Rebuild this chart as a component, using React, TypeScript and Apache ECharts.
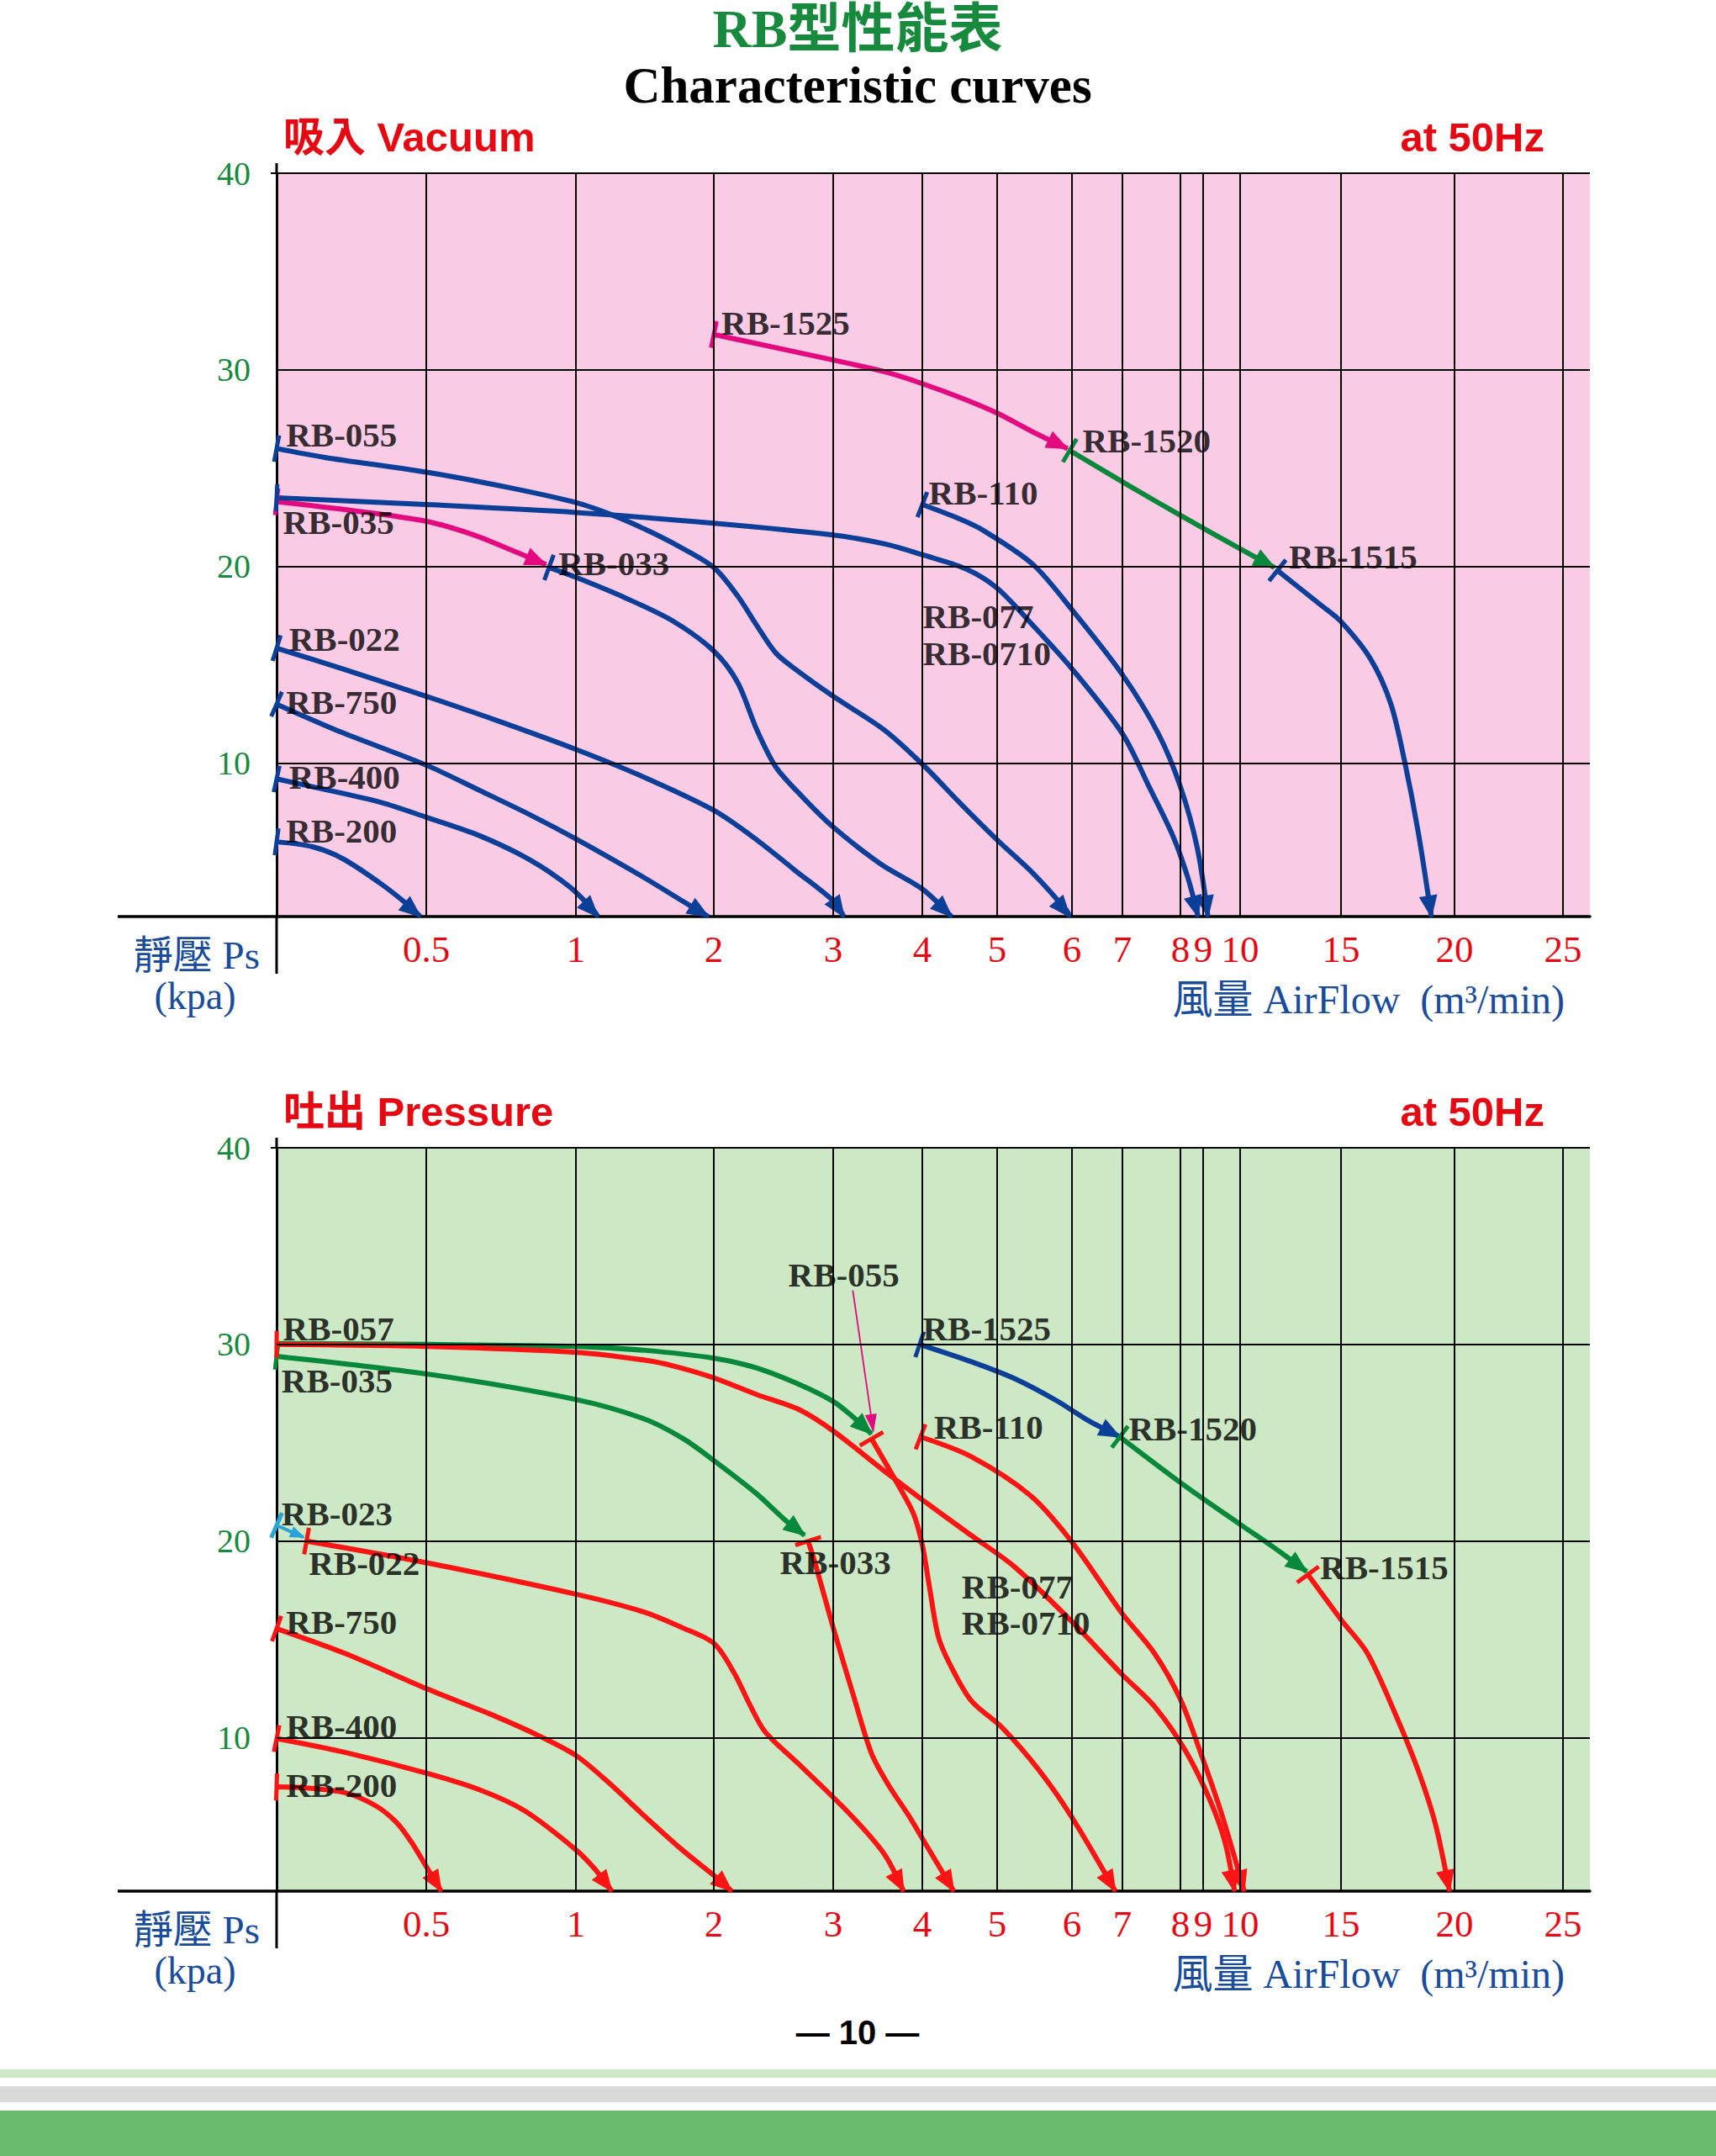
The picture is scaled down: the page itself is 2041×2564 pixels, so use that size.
import React, { useEffect, useRef } from "react";
import * as echarts from "echarts";

// ---------------- axis ticks ----------------
const X_TICK_FLOWS = [0, 0.5, 1, 2, 3, 4, 5, 6, 7, 8, 9, 10, 15, 20, 25, 26.24];
const X_TICK_LABELS = ["", "0.5", "1", "2", "3", "4", "5", "6", "7", "8", "9", "10", "15", "20", "25", ""];
const Y_TICKS = [10, 20, 30, 40];
const Y_MIN = 2.2;
const Y_MAX = 40;

// ---------------- 吸入 Vacuum curves: [flow m3/min, kPa] ----------------
const VAC_RB200 = [[0, 6.0], [0.12, 5.75], [0.22, 5.15], [0.35, 3.85], [0.45, 2.65], [0.48, 2.2]];
const VAC_RB400 = [[0, 9.2], [0.12, 8.8], [0.35, 8.0], [0.5, 7.25], [0.68, 6.3], [0.85, 5.05], [0.98, 3.7], [1.13, 2.5], [1.16, 2.2]];
const VAC_RB750 = [[0, 13.0], [0.22, 11.55], [0.5, 9.9], [0.68, 8.6], [0.85, 7.35], [1.0, 6.15], [1.49, 4.2], [1.77, 3.0], [1.96, 2.2]];
const VAC_RB022 = [[0, 15.85], [0.22, 14.8], [0.5, 13.4], [0.73, 12.2], [1.0, 10.7], [1.49, 9.3], [2.0, 7.6], [2.36, 6.1], [2.68, 4.55], [3.0, 3.0], [3.12, 2.2]];
const VAC_RB035 = [[0, 23.3], [0.25, 22.85], [0.5, 22.3], [0.66, 21.6], [0.79, 20.8], [0.9, 20.1]];
const VAC_RB033 = [[0.91, 19.95], [1.0, 19.45], [1.36, 18.4], [1.71, 17.2], [2.0, 15.7], [2.2, 14.1], [2.36, 11.7], [2.52, 9.8], [2.74, 8.3], [3.0, 6.75], [3.54, 4.85], [4.0, 3.6], [4.39, 2.2]];
const VAC_RB055 = [[0, 26.0], [0.16, 25.55], [0.5, 24.8], [0.78, 24.0], [1.0, 23.25], [1.27, 22.6], [1.5, 21.9], [1.74, 21.05], [2.0, 19.95], [2.2, 18.5], [2.36, 17.0], [2.52, 15.6], [2.7, 14.7], [3.0, 13.4], [3.57, 11.7], [4.0, 9.95], [4.51, 7.95], [5.0, 6.1], [5.48, 4.4], [5.93, 2.5], [5.97, 2.2]];
const VAC_RB077 = [[0, 23.5], [0.5, 23.15], [1.0, 22.75], [2.0, 22.2], [3.0, 21.6], [3.58, 21.15], [4.0, 20.6], [4.57, 19.9], [5.0, 18.9], [5.48, 17.0], [6.0, 14.8], [7.0, 11.5], [7.46, 8.8], [7.87, 6.3], [8.32, 4.2], [8.78, 2.2]];
const VAC_RB110 = [[4.0, 23.15], [4.51, 22.4], [4.83, 21.8], [5.48, 20.1], [6.0, 17.8], [7.0, 14.5], [7.62, 11.5], [8.0, 8.8], [8.74, 5.7], [9.13, 2.2]];
const VAC_RB1525 = [[2.0, 31.8], [2.54, 31.1], [3.0, 30.5], [3.58, 29.9], [4.0, 29.3], [4.57, 28.5], [5.0, 27.8], [5.5, 26.8], [5.94, 26.0]];
const VAC_RB1520 = [[5.97, 25.9], [7.12, 24.1], [8.0, 22.6], [10.0, 20.9], [11.7, 19.95]];
const VAC_RB1515 = [[11.85, 19.8], [14.05, 18.0], [15.0, 17.2], [16.3, 15.3], [17.2, 13.0], [17.8, 10.1], [18.4, 6.5], [18.98, 2.2]];

const VAC_LABELS: [string, number, number][] = [
  ["RB-1525", 2.06, 32.4], ["RB-055", 0.03, 26.7], ["RB-1520", 6.2, 26.4], ["RB-110", 4.08, 23.75],
  ["RB-035", 0.02, 22.25], ["RB-033", 0.94, 20.15], ["RB-1515", 12.4, 20.5], ["RB-077", 4.0, 17.45],
  ["RB-0710", 4.0, 15.6], ["RB-022", 0.04, 16.3], ["RB-750", 0.03, 13.1], ["RB-400", 0.04, 9.3], ["RB-200", 0.03, 6.55],
];

// ---------------- 吐出 Pressure curves: [flow m3/min, kPa] ----------------
const PRS_RB200 = [[0, 7.5], [0.1, 7.45], [0.23, 7.2], [0.33, 6.55], [0.4, 5.7], [0.45, 4.7], [0.5, 3.45], [0.55, 2.2]];
const PRS_RB400 = [[0, 9.96], [0.23, 9.25], [0.5, 8.2], [0.68, 7.34], [0.83, 6.27], [1.0, 4.3], [1.14, 3.3], [1.26, 2.2]];
const PRS_RB750 = [[0, 15.55], [0.23, 14.28], [0.5, 12.5], [0.73, 11.1], [0.89, 10.0], [1.0, 9.1], [1.22, 7.83], [1.5, 6.0], [1.77, 4.3], [2.0, 3.0], [2.15, 2.2]];
const PRS_RB022 = [[0.1, 20.0], [0.5, 18.9], [1.0, 17.3], [1.49, 16.4], [1.77, 15.6], [2.0, 14.8], [2.17, 13.3], [2.3, 11.7], [2.43, 10.3], [2.71, 8.67], [3.19, 6.1], [3.57, 4.1], [3.79, 2.2]];
const PRS_RB023 = [[0, 20.8], [0.09, 20.2]];
const PRS_RB035 = [[0, 29.4], [0.5, 28.5], [1.0, 27.2], [1.5, 26.2], [1.78, 25.2], [2.0, 24.1], [2.36, 22.4], [2.61, 21.0], [2.76, 20.3]];
const PRS_RB033 = [[2.79, 20.0], [2.85, 18.85], [3.0, 15.6], [3.24, 11.95], [3.43, 9.2], [3.62, 7.6], [3.86, 5.95], [4.06, 4.5], [4.42, 2.2]];
const PRS_RB057G = [[0, 30.05], [0.5, 30.0], [1.0, 29.9], [1.5, 29.7], [2.0, 29.3], [2.36, 28.8], [2.74, 27.9], [3.0, 27.1], [3.2, 26.4], [3.43, 25.45]];
const PRS_RB057R = [[0, 30.0], [0.5, 29.9], [1.0, 29.6], [1.5, 29.2], [1.71, 28.9], [2.0, 28.3], [2.36, 27.45], [2.71, 26.7], [3.0, 25.6], [3.62, 23.4], [4.0, 22.1], [4.65, 20.3], [5.23, 18.7], [6.0, 15.9], [7.0, 13.2], [7.55, 11.6], [8.19, 9.4], [9.18, 6.85], [9.59, 4.7], [9.85, 2.2]];
const PRS_RB055 = [[3.43, 25.2], [3.71, 23.0], [3.9, 21.4], [4.0, 19.8], [4.09, 17.8], [4.21, 15.2], [4.36, 13.8], [4.65, 11.9], [5.07, 10.5], [5.57, 8.3], [6.0, 5.95], [6.86, 2.2]];
const PRS_RB110 = [[3.98, 25.3], [4.65, 24.3], [5.45, 22.3], [6.0, 19.95], [7.0, 16.3], [7.55, 14.3], [8.0, 11.95], [8.9, 9.2], [9.53, 5.95], [10.2, 2.2]];
const PRS_RB1525 = [[3.97, 30.0], [4.67, 29.1], [5.24, 28.25], [5.79, 27.15], [6.31, 26.15], [6.95, 25.3]];
const PRS_RB1520 = [[6.95, 25.3], [8.15, 22.85], [10.0, 20.85], [11.5, 19.8], [13.3, 18.45]];
const PRS_RB1515 = [[13.36, 18.3], [15.04, 15.95], [16.16, 14.3], [17.47, 11.0], [18.41, 8.3], [19.16, 5.6], [19.78, 2.2]];
const PRS_PTR055 = [[3.22, 32.75], [3.45, 25.6]];

const PRS_LABELS: [string, number, number][] = [
  ["RB-057", 0.02, 30.8], ["RB-035", 0.015, 28.15], ["RB-023", 0.015, 21.4], ["RB-022", 0.106, 18.87],
  ["RB-750", 0.03, 15.9], ["RB-400", 0.03, 10.6], ["RB-200", 0.03, 7.6], ["RB-055", 2.62, 33.55],
  ["RB-1525", 4.0, 30.8], ["RB-110", 4.15, 25.8], ["RB-1520", 7.1, 25.7], ["RB-033", 2.55, 18.9],
  ["RB-1515", 13.94, 18.65], ["RB-077", 4.52, 17.7], ["RB-0710", 4.52, 15.85],
];

// ---------------- styles / layout ----------------
const BLUE = "#0b3f98";
const MAGENTA = "#e3097f";
const GREEN = "#07883a";
const RED = "#fb1414";
const CYAN = "#2aa3d9";
const TEXT_RED = "#e50914";
const TEXT_GREEN = "#178a3e";
const TEXT_BLUE = "#1a4c9c";
const SERIF = '"Liberation Serif", "DejaVu Serif", "Noto Sans CJK TC", serif';
const SANS = '"Liberation Sans", "Noto Sans CJK TC", sans-serif';

const PAGE_W = 2041;
const PAGE_H = 2564;
const GRID_LEFT = 329;
const GRID_W = 1562;
const GRID_H = 884;
const GRID_TOPS = [206, 1365];
const X_TICK_POS = [0, 178, 356, 520, 662, 768, 857, 946, 1006, 1075, 1102, 1146, 1266, 1401, 1530, 1562];

function flowPos(f: number) {
  const n = X_TICK_FLOWS.length;
  for (let i = 0; i < n - 1; i++) {
    const a = X_TICK_FLOWS[i];
    const b = X_TICK_FLOWS[i + 1];
    if (f <= b || i === n - 2) {
      return X_TICK_POS[i] + ((f - a) / (b - a)) * (X_TICK_POS[i + 1] - X_TICK_POS[i]);
    }
  }
  return 0;
}

type Curve = {
  name: string; data: number[][]; color: string; width?: number; tick?: boolean; arrow?: boolean;
  arrowLen?: number; arrowHalf?: number; smooth?: boolean;
};

const VAC_CURVES: Curve[] = [
  { name: "RB-200", data: VAC_RB200, color: BLUE },
  { name: "RB-400", data: VAC_RB400, color: BLUE },
  { name: "RB-750", data: VAC_RB750, color: BLUE },
  { name: "RB-022", data: VAC_RB022, color: BLUE },
  { name: "RB-033", data: VAC_RB033, color: BLUE },
  { name: "RB-035", data: VAC_RB035, color: MAGENTA },
  { name: "RB-055", data: VAC_RB055, color: BLUE },
  { name: "RB-077", data: VAC_RB077, color: BLUE },
  { name: "RB-110", data: VAC_RB110, color: BLUE },
  { name: "RB-1525", data: VAC_RB1525, color: MAGENTA },
  { name: "RB-1520", data: VAC_RB1520, color: GREEN },
  { name: "RB-1515", data: VAC_RB1515, color: BLUE },
];

const PRS_CURVES: Curve[] = [
  { name: "RB-200", data: PRS_RB200, color: RED },
  { name: "RB-400", data: PRS_RB400, color: RED },
  { name: "RB-750", data: PRS_RB750, color: RED },
  { name: "RB-022", data: PRS_RB022, color: RED },
  { name: "RB-023", data: PRS_RB023, color: CYAN, width: 4, arrowLen: 16, arrowHalf: 7, smooth: false },
  { name: "RB-035", data: PRS_RB035, color: GREEN },
  { name: "RB-033", data: PRS_RB033, color: RED },
  { name: "RB-057 to RB-055", data: PRS_RB057G, color: GREEN, tick: false },
  { name: "RB-057", data: PRS_RB057R, color: RED },
  { name: "RB-055", data: PRS_RB055, color: RED },
  { name: "RB-110", data: PRS_RB110, color: RED },
  { name: "RB-1525", data: PRS_RB1525, color: BLUE },
  { name: "RB-1520", data: PRS_RB1520, color: GREEN },
  { name: "RB-1515", data: PRS_RB1515, color: RED },
  { name: "RB-055 pointer", data: PRS_PTR055, color: MAGENTA, width: 1.8, tick: false, arrowLen: 20, arrowHalf: 7, smooth: false },
];

function dirFrom(pts: number[][], fromEnd: boolean, minDist: number) {
  const n = pts.length;
  const a = fromEnd ? pts[n - 1] : pts[0];
  let b = fromEnd ? pts[n - 2] : pts[1];
  if (fromEnd) {
    for (let i = n - 2; i >= 0; i--) {
      b = pts[i];
      if (Math.hypot(a[0] - b[0], a[1] - b[1]) >= minDist) break;
    }
  } else {
    for (let i = 1; i < n; i++) {
      b = pts[i];
      if (Math.hypot(a[0] - b[0], a[1] - b[1]) >= minDist) break;
    }
  }
  const dx = fromEnd ? a[0] - b[0] : b[0] - a[0];
  const dy = fromEnd ? a[1] - b[1] : b[1] - a[1];
  const L = Math.hypot(dx, dy) || 1;
  return [dx / L, dy / L];
}

function buildPanel(g: number, curves: Curve[], labels: [string, number, number][]) {
  const series: any[] = [];
  // grid lines
  series.push({
    type: "line", xAxisIndex: g, yAxisIndex: g, data: [[0, Y_MIN]], symbol: "none",
    lineStyle: { opacity: 0 }, silent: true, z: 1,
    markLine: {
      silent: true, symbol: ["none", "none"], label: { show: false },
      lineStyle: { color: "#000", width: 2, type: "solid" },
      emphasis: { disabled: true },
      data: [
        ...X_TICK_POS.slice(1, -1).map((p) => ({ xAxis: p })),
        ...Y_TICKS.map((v) => ({ yAxis: v })),
      ],
    },
  });
  curves.forEach((c) => {
    series.push({
      type: "line", name: c.name, xAxisIndex: g, yAxisIndex: g,
      data: c.data.map(([f, k]) => [flowPos(f), k]),
      smooth: c.smooth === false ? false : 0.3,
      showSymbol: false, symbol: "none",
      lineStyle: { color: c.color, width: c.width ?? 6 },
      silent: true, z: 3,
    });
  });
  // start ticks and arrow heads
  series.push({
    type: "custom", xAxisIndex: g, yAxisIndex: g, silent: true, z: 4, clip: false,
    data: curves.map((_, i) => [i, Y_MAX]),
    renderItem: (params: any, api: any) => {
      const c = curves[params.dataIndex];
      const pts = c.data.map(([f, k]) => api.coord([flowPos(f), k]));
      const children: any[] = [];
      if (c.arrow !== false) {
        const [dx, dy] = dirFrom(pts, true, 18);
        const a = pts[pts.length - 1];
        const len = c.arrowLen ?? 25;
        const hw = c.arrowHalf ?? 11;
        const bx = a[0] - dx * len;
        const by = a[1] - dy * len;
        children.push({
          type: "polygon",
          shape: { points: [[a[0] + dx * 2, a[1] + dy * 2], [bx - dy * hw, by + dx * hw], [bx + dy * hw, by - dx * hw]] },
          style: { fill: c.color },
        });
      }
      if (c.tick !== false) {
        const [dx, dy] = dirFrom(pts, false, 14);
        const a = pts[0];
        const h = 16;
        children.push({
          type: "line",
          shape: { x1: a[0] - dy * h, y1: a[1] + dx * h, x2: a[0] + dy * h, y2: a[1] - dx * h },
          style: { stroke: c.color, lineWidth: 5 },
        });
      }
      return { type: "group", children };
    },
  });
  // model labels
  series.push({
    type: "scatter", xAxisIndex: g, yAxisIndex: g, silent: true, z: 5,
    symbol: "circle", symbolSize: 1, itemStyle: { color: "rgba(0,0,0,0)" },
    data: labels.map(([n, f, k]) => ({ name: n, value: [flowPos(f), k] })),
    label: {
      show: true, position: "right", distance: 0, formatter: "{b}",
      color: "#000", fontFamily: SERIF, fontWeight: "bold", fontSize: 41,
    },
  });
  return series;
}

function text(x: number, y: number, t: string, font: string, fill: string, align = "left", extra: any = {}) {
  return {
    type: "text", x, y, silent: true, ...extra,
    style: { text: t, font, fill, align, textAlign: align, verticalAlign: "middle", textVerticalAlign: "middle" },
  };
}

function line(x1: number, y1: number, x2: number, y2: number, w: number) {
  return { type: "line", silent: true, shape: { x1, y1, x2, y2 }, style: { stroke: "#000", lineWidth: w } };
}

export default function App() {
  const ref = useRef<HTMLDivElement>(null);
  useEffect(() => {
    document.body.style.margin = "0";
    const chart = echarts.init(ref.current!, undefined, { renderer: "svg" });
    const bgs = ["#f9cbe5", "#cde8c4"];
    const grids = GRID_TOPS.map((top, g) => ({
      left: GRID_LEFT, top, width: GRID_W, height: GRID_H, show: true,
      backgroundColor: bgs[g], borderWidth: 0,
    }));
    const xAxes = GRID_TOPS.map((_, g) => ({
      type: "value", gridIndex: g, min: 0, max: X_TICK_POS[X_TICK_POS.length - 1],
      axisLine: { show: true, onZero: false, lineStyle: { color: "#000", width: 3.5 } },
      axisTick: { show: false }, splitLine: { show: false },
      axisLabel: {
        customValues: X_TICK_POS.slice(1, -1),
        formatter: (v: number) => {
          const i = X_TICK_POS.findIndex((p) => Math.abs(p - v) < 0.01);
          return i >= 0 ? X_TICK_LABELS[i] : "";
        },
        color: TEXT_RED, fontFamily: SERIF, fontSize: 45, margin: 16,
      },
    }));
    const yAxes = GRID_TOPS.map((_, g) => ({
      type: "value", gridIndex: g, min: Y_MIN, max: Y_MAX,
      axisLine: { show: true, lineStyle: { color: "#000", width: 3 } },
      axisTick: { show: false }, splitLine: { show: false },
      axisLabel: { customValues: Y_TICKS, color: TEXT_GREEN, fontFamily: SERIF, fontSize: 40, margin: 31 },
    }));

    const graphics: any[] = [
      text(1020, 34, "RB型性能表", `bold 64px ${SERIF}`, TEXT_GREEN, "center"),
      text(1020, 101, "Characteristic curves", `bold 61px ${SERIF}`, "#000", "center"),
    ];
    const headers = ["吸入 Vacuum", "吐出 Pressure"];
    GRID_TOPS.forEach((top, g) => {
      const bottom = top + GRID_H;
      graphics.push(text(337, top - 43, headers[g], `bold 49px ${SANS}`, TEXT_RED, "left"));
      graphics.push(text(1837, top - 43, "at 50Hz", `bold 49px ${SANS}`, TEXT_RED, "right"));
      graphics.push(text(309, bottom + 46, "靜壓 Ps", `47px ${SERIF}`, TEXT_BLUE, "right"));
      graphics.push(text(232, bottom + 94, "(kpa)", `46px ${SERIF}`, TEXT_BLUE, "center"));
      graphics.push(text(1861, bottom + 98, "風量 AirFlow  (m³/min)", `48px ${SERIF}`, TEXT_BLUE, "right"));
      graphics.push(line(140, bottom, GRID_LEFT, bottom, 3.5));
      graphics.push(line(GRID_LEFT, bottom, GRID_LEFT, bottom + 68, 3));
      graphics.push(line(GRID_LEFT, top - 12, GRID_LEFT, top, 3));
      graphics.push(line(GRID_LEFT - 7, top, GRID_LEFT, top, 2));
    });
    graphics.push(text(1020, 2417, "— 10 —", `bold 40px "Liberation Sans Narrow", ${SANS}`, "#000", "center"));
    graphics.push({ type: "rect", silent: true, shape: { x: 0, y: 2461, width: PAGE_W, height: 10 }, style: { fill: "#cde9c5" } });
    graphics.push({ type: "rect", silent: true, shape: { x: 0, y: 2481, width: PAGE_W, height: 19 }, style: { fill: "#d9d9d9" } });
    graphics.push({ type: "rect", silent: true, shape: { x: 0, y: 2510, width: PAGE_W, height: PAGE_H - 2510 }, style: { fill: "#69bb6d" } });

    chart.setOption({
      animation: false,
      backgroundColor: "#ffffff",
      textStyle: { fontFamily: SERIF },
      grid: grids,
      xAxis: xAxes,
      yAxis: yAxes,
      series: [...buildPanel(0, VAC_CURVES, VAC_LABELS), ...buildPanel(1, PRS_CURVES, PRS_LABELS)],
      graphic: { elements: graphics },
    });
    return () => chart.dispose();
  }, []);
  return <div ref={ref} style={{ width: PAGE_W, height: PAGE_H }} />;
}
